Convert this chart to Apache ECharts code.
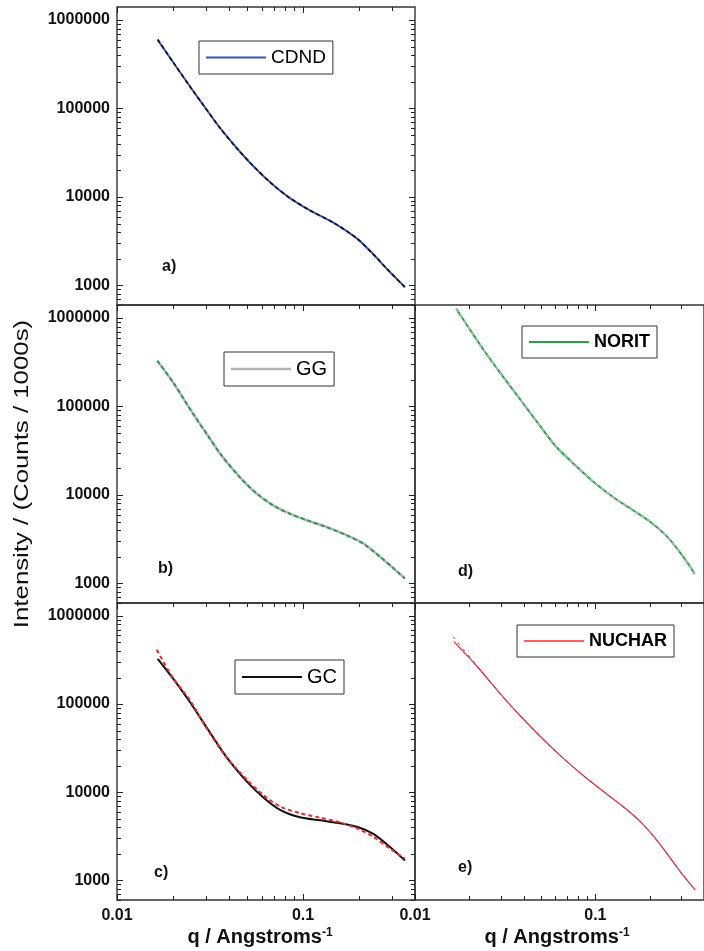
<!DOCTYPE html>
<html><head><meta charset="utf-8">
<script src="https://cdn.jsdelivr.net/npm/echarts@6/dist/echarts.min.js"></script>
<style>html,body{margin:0;padding:0;background:#fff}#c{width:704px;height:951px}</style>
</head><body><div id="c"></div>
<script>
// ---------- data ----------
const qCDND    = [0.01655,0.02007,0.0247,0.0291,0.0358,0.0440,0.0541,0.0692,0.0851,0.109,0.1455,0.1944,0.2388,0.2818,0.353];
const iCDND    = [595000,330000,177000,109000,60100,35700,22200,13600,9690,7030,5130,3400,2250,1540,957];
const iCDNDFit = [600000,331000,176000,109500,60000,35600,22300,13550,9700,7020,5120,3410,2240,1550,950];

const qGG      = [0.01647,0.02007,0.0257,0.0304,0.0365,0.0459,0.0564,0.0692,0.0851,0.1047,0.134,0.1718,0.211,0.2594,0.306,0.353];
const iGG      = [326000,185000,81900,48800,27800,15800,10300,7620,6150,5170,4350,3510,2830,2000,1480,1140];
const iGGFit   = [328000,186000,82000,48500,27900,15700,10400,7580,6100,5200,4300,3480,2800,2000,1490,1130];

const qGC      = [0.01655,0.02007,0.0247,0.0304,0.0389,0.0498,0.0612,0.0752,0.0964,0.1234,0.158,0.1983,0.2388,0.2936,0.353];
const iGC      = [326000,193000,105000,53900,24800,13300,8740,6330,5200,4810,4450,4010,3370,2390,1680];
const qGCFit   = [0.01635,0.02007,0.0247,0.0304,0.0389,0.0498,0.0612,0.0752,0.0964,0.1234,0.158,0.1983,0.2388,0.2936,0.353];
const iGCFit   = [412000,196000,110900,52400,24700,14000,9300,6900,5800,5150,4550,3840,3120,2290,1770];

const qNORIT   = [0.0169,0.0198,0.02435,0.0306,0.0384,0.0492,0.0605,0.0775,0.0994,0.1274,0.1633,0.2009,0.2468,0.3036,0.3556];
const iNORIT   = [1275000,780000,417000,220000,119000,60500,35200,21500,13600,9230,6620,4980,3460,2060,1280];
const iNORITFit= [1270000,778000,418000,219000,119500,60300,35300,21400,13600,9250,6600,4990,3450,2050,1290];

const qNUCHAR    = [0.01643,0.0224,0.0299,0.0384,0.0513,0.0657,0.0843,0.108,0.1384,0.1774,0.218,0.268,0.310,0.358];
const iNUCHAR    = [510000,258000,129000,73100,39900,24700,15900,10600,7200,4640,2890,1650,1110,776];
const qNUCHARFit = [0.01623,0.0224,0.0299,0.0384,0.0513,0.0657,0.0843,0.108,0.1384,0.1774,0.218,0.268,0.310,0.358];
const iNUCHARFit = [580000,262000,128000,73300,39700,24800,15800,10650,7180,4660,2880,1660,1100,785];

// tick values and labels
const xMajorTicks = [0.01, 0.1];
const xMinorTicks = [0.02,0.03,0.04,0.05,0.06,0.07,0.08,0.09,0.2,0.3];
const yMajorTicks = [1000, 10000, 100000, 1000000];
const yMinorTicks = [600,700,800,900,2000,3000,4000,5000,6000,7000,8000,9000,
  20000,30000,40000,50000,60000,70000,80000,90000,
  200000,300000,400000,500000,600000,700000,800000,900000];
const xTickLabels = {"0.01":"0.01","0.1":"0.1"};
const yTickLabels = {"1000":"1000","10000":"10000","100000":"100000","1000000":"1000000"};
const panelLetters = ['a)','b)','c)','d)','e)'];
const yTitle = 'Intensity / (Counts / 1000s)';
const xTitle = 'q / Angstroms';
const xTitleSup = '-1';

// ---------- layout ----------
const FONT = '"Liberation Sans", Arial, sans-serif';
const panels = [
  {grid:{left:117,top:7,width:298,height:298},  name:'CDND', q:qCDND, i:iCDND, qf:qCDND, f:iCDNDFit,
   color:'#3552b5', w:2, fitColor:'#111', fw:1.6, dash:[4,3], legend:{left:199,top:41}, bold:false, fs:19,
   ticks:{top:true,bottom:false,left:true,right:true}, yLab:true, xLab:false, letter:[162,267]},
  {grid:{left:117,top:305,width:298,height:298},name:'GG', q:qGG, i:iGG, qf:qGG, f:iGGFit,
   color:'#b4b4b4', w:2.6, fitColor:'#1f9a45', fw:1.8, dash:[4,3], legend:{left:224,top:352}, bold:false, fs:20,
   ticks:{top:true,bottom:false,left:true,right:true}, yLab:true, xLab:false, letter:[158,569]},
  {grid:{left:117,top:603,width:298,height:297},name:'GC', q:qGC, i:iGC, qf:qGCFit, f:iGCFit,
   color:'#111', w:2, fitColor:'#ee2a2a', fw:2, dash:[4,3], legend:{left:235,top:660}, bold:false, fs:20,
   ticks:{top:true,bottom:true,left:true,right:true}, yLab:true, xLab:true, letter:[154,873]},
  {grid:{left:415,top:305,width:298,height:298},name:'NORIT', q:qNORIT, i:iNORIT, qf:qNORIT, f:iNORITFit,
   color:'#28a04c', w:2, fitColor:'#c8c8c8', fw:1.1, dash:[4,3], legend:{left:522,top:326}, bold:true, fs:18,
   ticks:{top:true,bottom:false,left:false,right:false}, yLab:false, xLab:false, letter:[458,572]},
  {grid:{left:415,top:603,width:298,height:297},name:'NUCHAR', q:qNUCHAR, i:iNUCHAR, qf:qNUCHARFit, f:iNUCHARFit,
   color:'#ff2a2a', w:1.3, fitColor:'#3a4fc0', fw:0.9, dash:[3,5], legend:{left:517,top:625}, bold:true, fs:18,
   ticks:{top:true,bottom:true,left:false,right:false}, yLab:false, xLab:true, letter:[458,868]}
];

function isDecade(v){ const l = Math.log10(v); return Math.abs(l - Math.round(l)) < 1e-6; }
function keyOf(v){ return String(+v.toPrecision(6)); }

function tickRenderer(flags){
  return function(params, api){
    const cs = params.coordSys;
    const kind = api.value(2);
    const style = {stroke:'#222', lineWidth:1};
    const kids = [];
    if (kind < 2){
      const len = kind === 0 ? 6 : 4;
      const x = Math.round(api.coord([api.value(0), api.value(1)])[0]) + 0.5;
      if (flags.top) kids.push({type:'line', shape:{x1:x,y1:cs.y,x2:x,y2:cs.y+len}, style});
      if (flags.bottom) kids.push({type:'line', shape:{x1:x,y1:cs.y+cs.height,x2:x,y2:cs.y+cs.height-len}, style});
    } else {
      const len = kind === 2 ? 6 : 4;
      const y = Math.round(api.coord([api.value(0), api.value(1)])[1]) + 0.5;
      if (flags.left) kids.push({type:'line', shape:{x1:cs.x,y1:y,x2:cs.x+len,y2:y}, style});
      if (flags.right) kids.push({type:'line', shape:{x1:cs.x+cs.width,y1:y,x2:cs.x+cs.width-len,y2:y}, style});
    }
    return {type:'group', children:kids};
  };
}

const tickData = []
  .concat(xMajorTicks.map(v => [v, 1000, 0]))
  .concat(xMinorTicks.map(v => [v, 1000, 1]))
  .concat(yMajorTicks.map(v => [0.1, v, 2]))
  .concat(yMinorTicks.map(v => [0.1, v, 3]));

const option = {
  animation:false,
  backgroundColor:'#fff',
  grid: panels.map(p => Object.assign({show:true, borderColor:'#333', borderWidth:1.4, backgroundColor:'transparent'}, p.grid)),
  xAxis: panels.map((p, k) => ({
    type:'log', logBase:10, gridIndex:k, min:0.01, max:0.4,
    axisLine:{show:false}, axisTick:{show:false}, splitLine:{show:false}, minorTick:{show:false},
    axisLabel:{show:p.xLab, margin:8, color:'#111', fontSize:16, fontWeight:'bold', fontFamily:FONT,
      showMinLabel:true, showMaxLabel:false,
      formatter: v => isDecade(v) ? (xTickLabels[keyOf(v)] || '') : ''}
  })),
  yAxis: panels.map((p, k) => ({
    type:'log', logBase:10, gridIndex:k, min:600, max:1400000,
    axisLine:{show:false}, axisTick:{show:false}, splitLine:{show:false}, minorTick:{show:false},
    axisLabel:{show:p.yLab, margin:7, color:'#111', fontSize:16, fontWeight:'bold', fontFamily:FONT,
      showMinLabel:false, showMaxLabel:false,
      formatter: v => isDecade(v) ? (yTickLabels[keyOf(v)] || '') : ''}
  })),
  legend: panels.map(p => ({
    data:[{name:p.name, icon:'rect'}], left:p.legend.left, top:p.legend.top, orient:'horizontal',
    itemWidth:60, itemHeight:Math.max(1.6, p.w), padding:[7,7,7,7], borderColor:'#333', borderWidth:1,
    borderRadius:0, backgroundColor:'#fff', selectedMode:false,
    textStyle:{fontSize:p.fs, fontWeight:p.bold?'bold':'normal', color:'#000', fontFamily:FONT}
  })),
  series: [],
  graphic: []
};

panels.forEach((p, k) => {
  option.series.push({
    type:'line', name:p.name, xAxisIndex:k, yAxisIndex:k, symbol:'none', smooth:0.3,
    data:p.q.map((q, j) => [q, p.i[j]]),
    lineStyle:{color:p.color, width:p.w}, itemStyle:{color:p.color}, z:3
  });
  option.series.push({
    type:'line', name:p.name + ' fit', xAxisIndex:k, yAxisIndex:k, symbol:'none', smooth:0.3,
    data:p.qf.map((q, j) => [q, p.f[j]]),
    lineStyle:{color:p.fitColor, width:p.fw, type:p.dash}, itemStyle:{color:p.fitColor}, z:4
  });
  option.series.push({
    type:'custom', xAxisIndex:k, yAxisIndex:k, clip:false, silent:true, z:5,
    renderItem: tickRenderer(p.ticks), encode:{x:0, y:1}, data:tickData
  });
  option.graphic.push({
    type:'text', x:p.letter[0], y:p.letter[1], z:10,
    style:{text:panelLetters[k], fontSize:16, fontWeight:'bold', fontFamily:FONT, fill:'#111',
      align:'left', verticalAlign:'middle', textAlign:'left', textVerticalAlign:'middle'}
  });
});

// axis titles
option.graphic.push({
  type:'text', x:22, y:474, rotation:Math.PI/2, scaleX:1.29, z:10,
  style:{text:yTitle, fontSize:20, fontFamily:FONT, fill:'#111',
    align:'center', verticalAlign:'middle', textAlign:'center', textVerticalAlign:'middle'}
});
[260, 557].forEach(cx => {
  option.graphic.push({
    type:'text', x:cx, y:937, z:10,
    style:{text:'{a|' + xTitle + '}{b|' + xTitleSup + '}', fill:'#111',
      align:'center', verticalAlign:'middle', textAlign:'center', textVerticalAlign:'middle',
      rich:{a:{fontSize:20, fontWeight:'bold', fontFamily:FONT, fill:'#111', color:'#111'},
            b:{fontSize:12, fontWeight:'bold', fontFamily:FONT, fill:'#111', color:'#111', verticalAlign:'top', padding:[0,0,8,0]}}}
  });
});

const chart = echarts.init(document.getElementById('c'), null, {renderer:'canvas'});
chart.setOption(option);
</script>
</body></html>
